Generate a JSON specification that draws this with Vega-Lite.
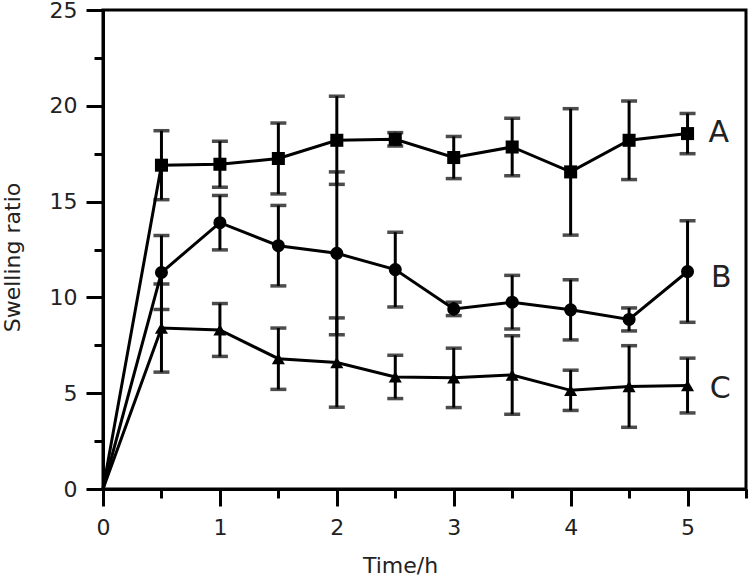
{
  "$schema": "https://vega.github.io/schema/vega-lite/v6.json",
  "autosize": {"type": "none"},
  "padding": {"left": 103, "top": 10, "right": 4, "bottom": 88},
  "width": 643,
  "height": 479,
  "background": "white",
  "config": {
    "view": {"stroke": "black", "strokeWidth": 3},
    "font": "DejaVu Sans",
    "axis": {
      "labelFont": "DejaVu Sans",
      "titleFont": "DejaVu Sans",
      "labelColor": "#222",
      "titleColor": "#222",
      "domainColor": "black",
      "domainWidth": 3,
      "tickColor": "black",
      "tickWidth": 3,
      "grid": false,
      "titleFontWeight": "normal"
    }
  },
  "datasets": {
    "points": [
      {"series": "A", "time": 0, "value": 0, "err": 0},
      {"series": "A", "time": 0.5, "value": 16.9, "err": 1.8},
      {"series": "A", "time": 1, "value": 16.95, "err": 1.2},
      {"series": "A", "time": 1.5, "value": 17.25, "err": 1.85},
      {"series": "A", "time": 2, "value": 18.2, "err": 2.3},
      {"series": "A", "time": 2.5, "value": 18.25, "err": 0.35},
      {"series": "A", "time": 3, "value": 17.3, "err": 1.1},
      {"series": "A", "time": 3.5, "value": 17.85, "err": 1.5},
      {"series": "A", "time": 4, "value": 16.55, "err": 3.3},
      {"series": "A", "time": 4.5, "value": 18.2, "err": 2.05},
      {"series": "A", "time": 5, "value": 18.55, "err": 1.05},
      {"series": "B", "time": 0, "value": 0, "err": 0},
      {"series": "B", "time": 0.5, "value": 11.3, "err": 1.93},
      {"series": "B", "time": 1, "value": 13.9, "err": 1.42},
      {"series": "B", "time": 1.5, "value": 12.7, "err": 2.1},
      {"series": "B", "time": 2, "value": 12.3, "err": 4.25},
      {"series": "B", "time": 2.5, "value": 11.45, "err": 1.95},
      {"series": "B", "time": 3, "value": 9.4, "err": 0.35},
      {"series": "B", "time": 3.5, "value": 9.75, "err": 1.4},
      {"series": "B", "time": 4, "value": 9.35, "err": 1.57},
      {"series": "B", "time": 4.5, "value": 8.85, "err": 0.6},
      {"series": "B", "time": 5, "value": 11.35, "err": 2.65},
      {"series": "C", "time": 0, "value": 0, "err": 0},
      {"series": "C", "time": 0.5, "value": 8.4, "err": 2.3},
      {"series": "C", "time": 1, "value": 8.3, "err": 1.38},
      {"series": "C", "time": 1.5, "value": 6.8, "err": 1.6},
      {"series": "C", "time": 2, "value": 6.6, "err": 2.33},
      {"series": "C", "time": 2.5, "value": 5.85, "err": 1.13},
      {"series": "C", "time": 3, "value": 5.8, "err": 1.55},
      {"series": "C", "time": 3.5, "value": 5.95, "err": 2.05},
      {"series": "C", "time": 4, "value": 5.15, "err": 1.05},
      {"series": "C", "time": 4.5, "value": 5.35, "err": 2.13},
      {"series": "C", "time": 5, "value": 5.4, "err": 1.43}
    ],
    "labels": [
      {"series": "A", "time": 5.18, "value": 18.6},
      {"series": "B", "time": 5.2, "value": 11.0},
      {"series": "C", "time": 5.19, "value": 5.2}
    ]
  },
  "encoding": {
    "x": {
      "field": "time",
      "type": "quantitative",
      "scale": {"domain": [0, 5.5], "nice": false, "zero": false},
      "axis": {
        "title": "Time/h",
        "values": [0, 0.5, 1, 1.5, 2, 2.5, 3, 3.5, 4, 4.5, 5, 5.5],
        "labelExpr": "datum.value % 1 === 0 ? datum.value : ''",
        "tickSize": {"condition": {"test": "datum.value % 1 === 0", "value": 17}, "value": 9},
        "labelFontSize": 22,
        "labelPadding": 11,
        "labelFlush": false,
        "titleFontSize": 22,
        "titleX": 297,
        "titleY": 76,
        "titleBaseline": "middle",
        "titleAlign": "center"
      }
    },
    "y": {
      "field": "value",
      "type": "quantitative",
      "scale": {"domain": [0, 25], "nice": false},
      "axis": {
        "title": "Swelling ratio",
        "values": [0, 2.5, 5, 7.5, 10, 12.5, 15, 17.5, 20, 22.5, 25],
        "labelExpr": "datum.value % 5 === 0 ? datum.value : ''",
        "tickSize": {"condition": {"test": "datum.value % 5 === 0", "value": 17}, "value": 9},
        "labelFontSize": 22,
        "labelPadding": 9,
        "labelFlush": false,
        "titleFontSize": 22,
        "titleX": -91,
        "titleY": 247,
        "titleBaseline": "middle",
        "titleAlign": "center",
        "titleAngle": -90
      }
    }
  },
  "layer": [
    {
      "data": {"name": "points"},
      "mark": {"type": "line", "color": "black", "strokeWidth": 3},
      "encoding": {"detail": {"field": "series"}}
    },
    {
      "data": {"name": "points"},
      "transform": [{"filter": "datum.time > 0"}],
      "mark": {
        "type": "errorbar",
        "color": "black",
        "ticks": {"size": 16, "thickness": 3.5, "color": "black"},
        "rule": {"strokeWidth": 3, "color": "black"}
      },
      "encoding": {
        "y": {"field": "value", "type": "quantitative"},
        "yError": {"field": "err"}
      }
    },
    {
      "data": {"name": "points"},
      "transform": [{"filter": "datum.time > 0"}],
      "mark": {"type": "point", "filled": true, "color": "black", "opacity": 1},
      "encoding": {
        "shape": {
          "field": "series",
          "type": "nominal",
          "scale": {"domain": ["A", "B", "C"], "range": ["square", "circle", "triangle-up"]},
          "legend": null
        },
        "size": {
          "field": "series",
          "type": "nominal",
          "scale": {"domain": ["A", "B", "C"], "range": [170, 170, 240]},
          "legend": null
        }
      }
    },
    {
      "data": {"name": "labels"},
      "mark": {"type": "text", "align": "left", "baseline": "middle", "fontSize": 30, "font": "DejaVu Sans", "color": "#222"},
      "encoding": {"text": {"field": "series"}}
    }
  ]
}
